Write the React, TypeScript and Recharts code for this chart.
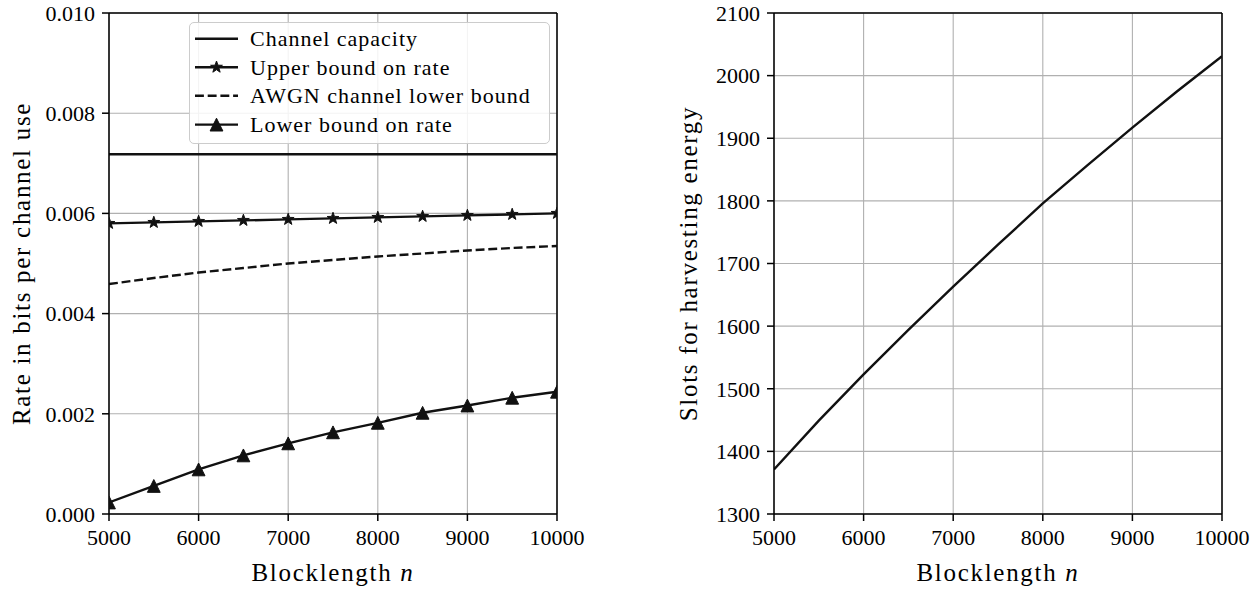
import React from 'react';
import { LineChart, Line, XAxis, YAxis, CartesianGrid, ReferenceLine, Legend } from 'recharts';

const BLOCKLENGTH = [5000, 5500, 6000, 6500, 7000, 7500, 8000, 8500, 9000, 9500, 10000];
const CAPACITY = [0.00718, 0.00718, 0.00718, 0.00718, 0.00718, 0.00718, 0.00718, 0.00718, 0.00718, 0.00718, 0.00718];
const UPPER = [0.0058, 0.00582, 0.00584, 0.00586, 0.00588, 0.0059, 0.00592, 0.00594, 0.00596, 0.00598, 0.006];
const AWGN = [0.00459, 0.00471, 0.00482, 0.00491, 0.005, 0.00507, 0.00514, 0.0052, 0.00526, 0.00531, 0.00535];
const LOWER = [0.00023, 0.00056, 0.00089, 0.00117, 0.00141, 0.00163, 0.00182, 0.00202, 0.002165, 0.00232, 0.00244];
const SLOTS = [1371, 1449, 1523, 1594, 1663, 1730, 1796, 1857, 1917, 1975, 2031];

const X_TICKS = [5000, 6000, 7000, 8000, 9000, 10000];
const RATE_TICKS = [0, 0.002, 0.004, 0.006, 0.008, 0.01];
const SLOT_TICKS = [1300, 1400, 1500, 1600, 1700, 1800, 1900, 2000, 2100];

const SERIES_NAMES = ['Channel capacity', 'Upper bound on rate', 'AWGN channel lower bound', 'Lower bound on rate'];

const leftData = BLOCKLENGTH.map((n, i) => ({
  n,
  cap: CAPACITY[i],
  upper: UPPER[i],
  awgn: AWGN[i],
  lower: LOWER[i],
}));
const rightData = BLOCKLENGTH.map((n, i) => ({ n, slots: SLOTS[i] }));

const FONT = '"Liberation Serif", "DejaVu Serif", serif';
const INK = '#111';
const DASH = '8.9 3.8';

function starPoints(cx: number, cy: number, R: number, r: number) {
  const pts: string[] = [];
  for (let k = 0; k < 10; k++) {
    const rad = k % 2 === 0 ? R : r;
    const a = -Math.PI / 2 + (k * Math.PI) / 5;
    pts.push(`${cx + rad * Math.cos(a)},${cy + rad * Math.sin(a)}`);
  }
  return pts.join(' ');
}

function triPoints(cx: number, cy: number, h: number) {
  return `${cx},${cy - h} ${cx - h},${cy + h} ${cx + h},${cy + h}`;
}

const StarDot = (props: any) => {
  const { cx, cy, index } = props;
  if (cx == null || cy == null) return <g key={`s-${index}`} />;
  return <polygon key={`s-${index}`} points={starPoints(cx, cy, 6.2, 2.5)} fill={INK} stroke={INK} strokeWidth={1} />;
};

const TriDot = (props: any) => {
  const { cx, cy, index } = props;
  if (cx == null || cy == null) return <g key={`t-${index}`} />;
  return <polygon key={`t-${index}`} points={triPoints(cx, cy, 6.4)} fill={INK} stroke={INK} strokeWidth={1} />;
};

const LegendBox = () => {
  const rows = [16.7, 45.2, 73.8, 102.6];
  return (
    <div
      style={{
        width: 361,
        height: 122,
        boxSizing: 'border-box',
        border: '1.2px solid #cccccc',
        borderRadius: 5,
        background: 'rgba(255,255,255,0.85)',
        position: 'relative',
      }}
    >
      <svg width={361} height={122} style={{ position: 'absolute', left: -1, top: -1 }}>
        {SERIES_NAMES.map((name, i) => {
          const y = rows[i];
          return (
            <g key={name}>
              <line
                x1={6}
                x2={49}
                y1={y}
                y2={y}
                stroke={INK}
                strokeWidth={2.4}
                strokeDasharray={i === 2 ? DASH : undefined}
              />
              {i === 1 && <polygon points={starPoints(27.5, y, 6.2, 2.5)} fill={INK} stroke={INK} strokeWidth={1} />}
              {i === 3 && <polygon points={triPoints(27.5, y, 6.4)} fill={INK} stroke={INK} strokeWidth={1} />}
              <text x={61} y={y + 7.5} fontFamily={FONT} fontSize={22} letterSpacing={1} fill="#000">
                {name}
              </text>
            </g>
          );
        })}
      </svg>
    </div>
  );
};

const makeXLabel = () => (props: any) => {
  const vb = props.viewBox || {};
  return (
    <text x={vb.x + vb.width / 2} y={vb.y + 67} textAnchor="middle" fontFamily={FONT} fontSize={25} letterSpacing={1.7} fill="#000">
      Blocklength <tspan fontStyle="italic">n</tspan>
    </text>
  );
};

const makeYLabel = (text: string, dx: number) => (props: any) => {
  const vb = props.viewBox || {};
  const bx = vb.x + vb.width - dx;
  const cy = vb.y + vb.height / 2;
  return (
    <text
      x={bx}
      y={cy}
      transform={`rotate(-90, ${bx}, ${cy})`}
      textAnchor="middle"
      fontFamily={FONT}
      fontSize={25}
      letterSpacing={1.7}
      fill="#000"
    >
      {text}
    </text>
  );
};

const tickStyle = { fontSize: 22, fill: '#000', fontFamily: FONT };
const axisStroke = { stroke: '#000', strokeWidth: 1.5 };

export default function App() {
  return (
    <div style={{ position: 'absolute', left: 0, top: 0, width: 1257, height: 591, background: '#fff' }}>
      <div style={{ position: 'absolute', left: 0, top: 0 }}>
        <LineChart width={640} height={591} data={leftData} margin={{ top: 13, right: 83, bottom: 27, left: 49 }}>
          <CartesianGrid stroke="#b0b0b0" strokeWidth={1.1} />
          <XAxis
            dataKey="n"
            type="number"
            domain={[5000, 10000]}
            ticks={X_TICKS}
            allowDataOverflow
            height={50}
            tick={tickStyle}
            tickSize={7}
            tickMargin={8}
            tickLine={axisStroke}
            axisLine={axisStroke}
            label={makeXLabel()}
          />
          <YAxis
            type="number"
            domain={[0, 0.01]}
            ticks={RATE_TICKS}
            allowDataOverflow
            width={60}
            tick={tickStyle}
            tickSize={7}
            tickMargin={7}
            tickLine={axisStroke}
            axisLine={axisStroke}
            tickFormatter={(v: number) => v.toFixed(3)}
            label={makeYLabel('Rate in bits per channel use', 79)}
          />
          <ReferenceLine y={0.01} stroke="#000" strokeWidth={1.5} />
          <ReferenceLine x={10000} stroke="#000" strokeWidth={1.5} />
          <Line dataKey="cap" name={SERIES_NAMES[0]} stroke={INK} strokeWidth={2.4} dot={false} activeDot={false} isAnimationActive={false} />
          <Line dataKey="upper" name={SERIES_NAMES[1]} stroke={INK} strokeWidth={2.4} dot={StarDot} activeDot={false} isAnimationActive={false} />
          <Line dataKey="awgn" name={SERIES_NAMES[2]} stroke={INK} strokeWidth={2.4} strokeDasharray={DASH} dot={false} activeDot={false} isAnimationActive={false} />
          <Line dataKey="lower" name={SERIES_NAMES[3]} stroke={INK} strokeWidth={2.4} dot={TriDot} activeDot={false} isAnimationActive={false} />
          <Legend
            layout="vertical"
            align="center"
            verticalAlign="middle"
            content={() => <LegendBox />}
            wrapperStyle={{ left: 189, top: 22, width: 361, height: 122 }}
          />
        </LineChart>
      </div>
      <div style={{ position: 'absolute', left: 640, top: 0 }}>
        <LineChart width={617} height={591} data={rightData} margin={{ top: 13, right: 35, bottom: 27, left: 74 }}>
          <CartesianGrid stroke="#b0b0b0" strokeWidth={1.1} />
          <XAxis
            dataKey="n"
            type="number"
            domain={[5000, 10000]}
            ticks={X_TICKS}
            allowDataOverflow
            height={50}
            tick={tickStyle}
            tickSize={7}
            tickMargin={8}
            tickLine={axisStroke}
            axisLine={axisStroke}
            label={makeXLabel()}
          />
          <YAxis
            type="number"
            domain={[1300, 2100]}
            ticks={SLOT_TICKS}
            allowDataOverflow
            width={60}
            tick={tickStyle}
            tickSize={7}
            tickMargin={7}
            tickLine={axisStroke}
            axisLine={axisStroke}
            label={makeYLabel('Slots for harvesting energy', 77)}
          />
          <ReferenceLine y={2100} stroke="#000" strokeWidth={1.5} />
          <ReferenceLine x={10000} stroke="#000" strokeWidth={1.5} />
          <Line dataKey="slots" stroke={INK} strokeWidth={2.4} dot={false} activeDot={false} isAnimationActive={false} />
        </LineChart>
      </div>
    </div>
  );
}
